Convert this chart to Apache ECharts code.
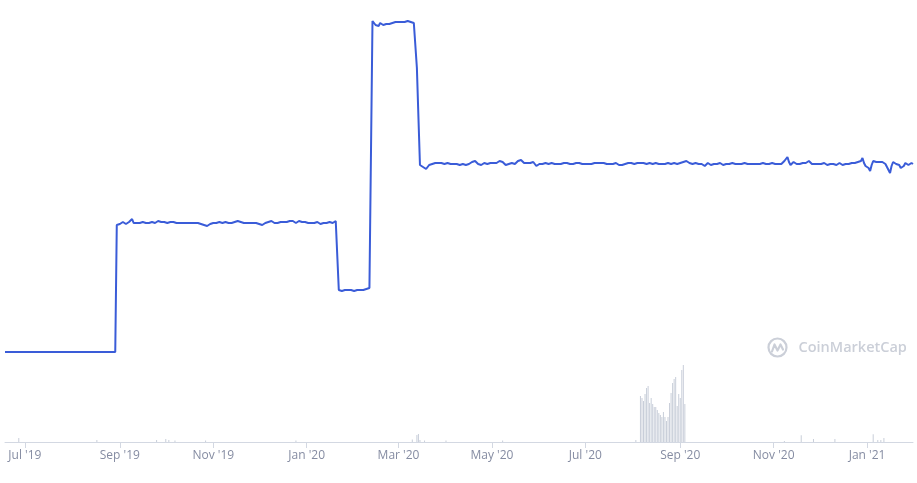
<!DOCTYPE html>
<html>
<head>
<meta charset="utf-8">
<script src="https://cdn.jsdelivr.net/npm/echarts@6/dist/echarts.min.js"></script>
<style>
html,body{margin:0;padding:0;background:#fff;}
#chart{width:917px;height:483px;}
</style>
</head>
<body>
<div id="chart"></div>
<script>
// ---- Data ----
// Daily prices starting 2019-06-18
var startDate = [2019, 5, 18];
var endDate = [2021, 0, 31];

var priceSeg1 = [
0.90,0.90,0.90,0.90,0.90,0.90,0.90,0.90,0.90,0.90,
0.90,0.90,0.90,0.90,0.90,0.90,0.90,0.90,0.90,0.90,
0.90,0.90,0.90,0.90,0.90,0.90,0.90,0.90,0.90,0.90,
0.90,0.90,0.90,0.90,0.90,0.90,0.90,0.90,0.90,0.90,
0.90,0.90,0.90,0.90,0.90,0.90,0.90,0.90,0.90,0.90,
0.90,0.90,0.90,0.90,0.90,0.90,0.90,0.90,0.90,0.90,
0.90,0.90,0.90,0.90,0.90,0.90,0.90,0.90,0.90,0.90,
0.90,0.90,0.90
];
var priceSeg2 = [
2.17,2.19,2.18,2.19,2.20,2.19,2.18,2.19,2.20,2.21,
2.23,2.19,2.20,2.19,2.20,2.19,2.19,2.20,2.19,2.19,
2.20,2.19,2.19,2.20,2.20,2.19,2.20,2.21,2.21,2.20,
2.19,2.20,2.19,2.19,2.19,2.20,2.19,2.20,2.19,2.19,
2.20,2.19,2.19,2.19,2.18,2.19,2.19,2.19,2.18,2.19,
2.19,2.19,2.18,2.19,2.19,2.18,2.18,2.17,2.17,2.16,
2.18,2.18,2.19,2.19,2.18,2.19,2.19,2.20,2.19,2.19,
2.19,2.20,2.19,2.19,2.20,2.19,2.20,2.20,2.20,2.21,
2.21,2.20,2.20,2.19,2.20,2.19,2.20,2.19,2.20,2.19,
2.18,2.19,2.18,2.18,2.17,2.17,2.19,2.19,2.20,2.20,
2.21,2.21,2.19,2.19,2.20,2.19,2.19,2.20,2.19,2.20,
2.19,2.20,2.20,2.21,2.22,2.21,2.20,2.19,2.20,2.21,
2.21,2.20,2.19,2.20,2.20,2.19,2.20,2.19,2.20,2.19,
2.19,2.20,2.19,2.18,2.19,2.19,2.20,2.19,2.19,2.20,
2.20,2.19,2.20,2.21,2.20
];
var priceSeg3 = [
1.52,1.52,1.51,1.52,1.52,1.51,1.52,1.52,1.52,1.51,
1.51,1.52,1.52,1.52,1.52,1.53,1.52,1.53,1.53,1.53,
1.54,1.54
];
var priceSeg4 = [
4.21,4.19,4.17,4.15,4.16,4.19,4.18,4.17,4.19,4.18,
4.19,4.18,4.20,4.19,4.18,4.20,4.19,4.20,4.21,4.20,
4.21,4.20,4.22,4.21,4.22,4.20,4.21,4.19,4.20,
3.74,3.25
];
var priceSeg5 = [
2.77,2.76,2.75,2.74,2.73,2.75,2.77,2.76,2.78,2.80,
2.79,2.78,2.79,2.78,2.79,2.79,2.78,2.78,2.79,2.78,
2.78,2.77,2.78,2.79,2.78,2.78,2.77,2.78,2.78,2.77,
2.77,2.76,2.78,2.79,2.80,2.81,2.81,2.79,2.78,2.77,
2.77,2.78,2.79,2.79,2.78,2.79,2.79,2.80,2.79,2.80,
2.79,2.80,2.81,2.82,2.80,2.79,2.77,2.77,2.78,2.79,
2.79,2.79,2.78,2.79,2.81,2.82,2.82,2.80,2.79,2.78,
2.79,2.79,2.79,2.80,2.80,2.78,2.76,2.77,2.78,2.78,
2.78,2.78,2.79,2.78,2.78,2.78,2.79,2.78,2.78,2.79,
2.78,2.79,2.78,2.78,2.79,2.78,2.79,2.78,2.78,2.79,
2.78,2.79,2.79,2.78,2.79,2.80,2.78,2.79,2.78,2.79,
2.78,2.79,2.78,2.77,2.79,2.78,2.79,2.78,2.79,2.78,
2.79,2.78,2.78,2.79,2.78,2.79,2.78,2.78,2.79,2.78,
2.77,2.75,2.77,2.79,2.78,2.79,2.79,2.78,2.79,2.79,
2.78,2.79,2.79,2.78,2.79,2.78,2.79,2.79,2.78,2.78,
2.79,2.78,2.78,2.79,2.79,2.78,2.78,2.79,2.78,2.78,
2.78,2.78,2.79,2.78,2.78,2.78,2.79,2.78,2.78,2.78,
2.79,2.79,2.80,2.80,2.81,2.80,2.79,2.78,2.78,2.78,
2.79,2.78,2.78,2.77,2.78,2.77,2.76,2.78,2.79,2.78,
2.77,2.79,2.78,2.79,2.78,2.77,2.79,2.78,2.77,2.75,
2.78,2.79,2.78,2.78,2.79,2.78,2.78,2.79,2.78,2.78,
2.78,2.79,2.79,2.80,2.78,2.78,2.78,2.79,2.78,2.78,
2.78,2.77,2.78,2.78,2.79,2.78,2.78,2.77,2.78,2.78,
2.79,2.78,2.78,2.79,2.78,2.79,2.78,2.80,2.81,2.79,
2.85,2.80,2.77,2.79,2.80,2.78,2.78,2.79,2.78,2.78,
2.79,2.78,2.79,2.80,2.81,2.79,2.78,2.79,2.78,2.78,
2.78,2.77,2.78,2.78,2.79,2.78,2.77,2.78,2.78,2.77,
2.78,2.78,2.77,2.78,2.79,2.78,2.77,2.78,2.78,2.79,
2.78,2.77,2.79,2.78,2.79,2.80,2.80,2.78,2.81,2.84,
2.79,2.76,2.77,2.74,2.71,2.77,2.81,2.79,2.80,2.81,
2.80,2.79,2.80,2.80,2.78,2.75,2.72,2.69,2.76,2.80,
2.79,2.78,2.79,2.77,2.74,2.72,2.76,2.79,2.78,2.77,
2.78,2.79,2.78
];

var volDates = [
'2019-06-27','2019-08-17','2019-09-25','2019-10-01','2019-10-03','2019-10-07','2019-10-27','2019-12-25',
'2020-03-10','2020-03-13','2020-03-14','2020-03-15','2020-03-18','2020-04-01','2020-05-08','2020-08-03',
'2020-08-06','2020-08-07','2020-08-08','2020-08-09','2020-08-10','2020-08-11','2020-08-12','2020-08-13',
'2020-08-14','2020-08-15','2020-08-16','2020-08-17','2020-08-18','2020-08-19','2020-08-20','2020-08-21',
'2020-08-22','2020-08-23','2020-08-24','2020-08-25','2020-08-26','2020-08-27','2020-08-28','2020-08-29',
'2020-08-30','2020-08-31','2020-09-01','2020-09-02','2020-09-03','2020-09-04',
'2020-11-08','2020-11-19','2020-11-27','2020-12-11','2021-01-05','2021-01-08','2021-01-10','2021-01-12'
];
var volValues = [
40,20,20,30,20,15,15,15,
25,70,80,20,15,15,15,20,
460,440,410,480,540,560,390,440,
380,350,350,320,290,270,250,300,
250,210,250,390,490,590,630,650,
360,480,440,720,770,380,
10,67,30,30,77,20,20,40
];

var tickLabels = ["Jul '19","Sep '19","Nov '19","Jan '20","Mar '20","May '20","Jul '20","Sep '20","Nov '20","Jan '21"];
var tickDates = [[2019,6,1],[2019,8,1],[2019,10,1],[2020,0,1],[2020,2,1],[2020,4,1],[2020,6,1],[2020,8,1],[2020,10,1],[2021,0,1]];

// ---- Build series ----
var prices = [].concat(priceSeg1, priceSeg2, priceSeg3, priceSeg4, priceSeg5);
var priceData = prices.map(function (v, i) {
  return [new Date(startDate[0], startDate[1], startDate[2] + i).getTime(), v];
});
var volData = volDates.map(function (d, i) {
  var p = d.split('-');
  return [new Date(+p[0], +p[1] - 1, +p[2]).getTime(), volValues[i]];
});
var tickValues = tickDates.map(function (d) { return new Date(d[0], d[1], d[2]).getTime(); });

var chart = echarts.init(document.getElementById('chart'));
chart.setOption({
  animation: false,
  backgroundColor: '#ffffff',
  grid: { left: 5, right: 4, top: 0, bottom: 41, containLabel: false },
  xAxis: {
    type: 'value',
    min: new Date(startDate[0], startDate[1], startDate[2]).getTime(),
    max: new Date(endDate[0], endDate[1], endDate[2]).getTime(),
    axisLine: { show: true, lineStyle: { color: '#d3d8e2', width: 1 } },
    axisTick: { show: true, length: 6, customValues: tickValues, lineStyle: { color: '#d3d8e2' } },
    axisLabel: {
      customValues: tickValues,
      margin: 8,
      color: '#858ca2',
      fontFamily: 'Open Sans',
      fontSize: 12,
      formatter: function (val) {
        for (var k = 0; k < tickValues.length; k++) {
          if (Math.abs(tickValues[k] - val) < 43200000) return tickLabels[k];
        }
        return '';
      }
    },
    splitLine: { show: false }
  },
  yAxis: [
    { type: 'value', min: 0, max: 4.42, show: false, splitLine: { show: false } },
    { type: 'value', min: 0, max: 4420, show: false, splitLine: { show: false } }
  ],
  graphic: [
    {
      type: 'group',
      left: 766, top: 336,
      silent: true,
      children: [
        { type: 'circle', shape: { cx: 10, cy: 10, r: 9 }, style: { fill: 'none', stroke: '#cbcfd8', lineWidth: 2.2 } },
        { type: 'polyline', shape: { points: [[4.5, 14], [7, 7], [10, 13], [13, 7], [15.5, 12]] }, style: { fill: 'none', stroke: '#cbcfd8', lineWidth: 2.2, lineJoin: 'round', lineCap: 'round' } },
        { type: 'text', style: { x: 31, y: 10, text: 'CoinMarketCap', fill: '#cbcfd8', font: '600 14.5px "Open Sans"', textVerticalAlign: 'middle' } }
      ]
    }
  ],
  series: [
    {
      name: 'Volume',
      type: 'bar',
      xAxisIndex: 0,
      yAxisIndex: 1,
      data: volData,
      barWidth: 1,
      itemStyle: { color: '#c8ced9' },
      silent: true,
      z: 1
    },
    {
      name: 'Price',
      type: 'line',
      xAxisIndex: 0,
      yAxisIndex: 0,
      data: priceData,
      showSymbol: false,
      lineStyle: { color: '#3a5cd8', width: 2 },
      z: 2
    }
  ]
});
</script>
</body>
</html>
